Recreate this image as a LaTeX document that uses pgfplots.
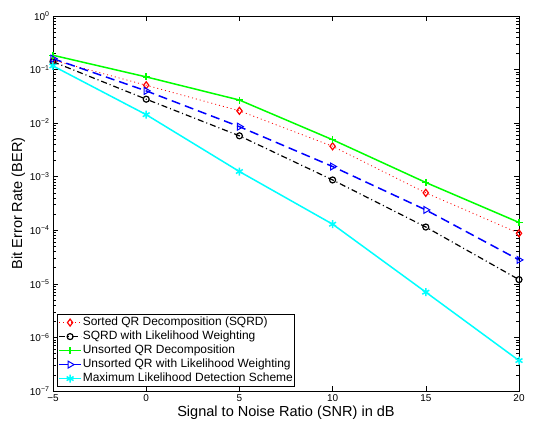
\documentclass[border=0pt]{standalone}
\usepackage{fontspec}
\setmainfont{Liberation Sans}
\usepackage{pgfplots}
\pgfplotsset{compat=1.18}
\definecolor{mlcyan}{RGB}{0,255,255}
\definecolor{mlgreen}{RGB}{0,255,0}
\definecolor{mlblue}{RGB}{0,0,255}
\definecolor{mlred}{RGB}{255,0,0}
\begin{document}
\begin{tikzpicture}
\begin{axis}[
 scale only axis, width=466bp, height=375bp,
 ymode=log, xmin=-5, xmax=20, ymin=1e-7, ymax=1,
 xtick={-5,0,5,10,15,20}, xticklabels={−5,0,5,10,15,20},
 ytick={1e-7,1e-6,1e-5,1e-4,1e-3,1e-2,1e-1,1},
 yticklabels={10\textsuperscript{−7},10\textsuperscript{−6},10\textsuperscript{−5},10\textsuperscript{−4},10\textsuperscript{−3},10\textsuperscript{−2},10\textsuperscript{−1},10\textsuperscript{0}},
 minor ytick={2e-7,3e-7,4e-7,5e-7,6e-7,7e-7,8e-7,9e-7,
  2e-6,3e-6,4e-6,5e-6,6e-6,7e-6,8e-6,9e-6,
  2e-5,3e-5,4e-5,5e-5,6e-5,7e-5,8e-5,9e-5,
  2e-4,3e-4,4e-4,5e-4,6e-4,7e-4,8e-4,9e-4,
  2e-3,3e-3,4e-3,5e-3,6e-3,7e-3,8e-3,9e-3,
  2e-2,3e-2,4e-2,5e-2,6e-2,7e-2,8e-2,9e-2,
  2e-1,3e-1,4e-1,5e-1,6e-1,7e-1,8e-1,9e-1},
 tick align=inside, major tick length=5bp, minor tick length=3bp,
 tick label style={font=\fontsize{10}{12}\selectfont},
 label style={font=\fontsize{14.6}{17}\selectfont},
 xlabel={Signal to Noise Ratio (SNR) in dB}, ylabel={Bit Error Rate (BER)},
 ylabel style={yshift=-2bp},
 xlabel style={yshift=2bp},
 axis line style={line width=0.8bp},
 every tick/.style={black, line width=0.6bp},
 legend style={at={(0.0085,0.0107)}, anchor=south west,
   font=\fontsize{12}{14}\selectfont, draw=black, line width=0.8bp,
   inner sep=1bp, row sep=0pt,
   nodes={inner sep=1bp, text height=9bp, text depth=3bp}},
 legend cell align=left,
 legend image code/.code={\draw[mark repeat=2,mark phase=2] plot coordinates {(0bp,0bp)(11bp,0bp)(22bp,0bp)};},
]
\addplot[mlred, line width=0.8bp, dash pattern=on 1bp off 3bp, mark=diamond, mark size=3.5bp, mark options={solid, line width=1.2bp}]
 coordinates {(-5,0.15) (0,0.051) (5,0.017) (10,0.0037) (15,5e-4) (20,8.8e-5)};
\addlegendentry{Sorted QR Decomposition (SQRD)}
\addplot[black, line width=1.2bp, dash pattern=on 6bp off 3bp on 1bp off 3bp, mark=o, mark size=3bp, mark options={solid}]
 coordinates {(-5,0.14) (0,0.028) (5,0.0058) (10,8.7e-4) (15,1.15e-4) (20,1.2e-5)};
\addlegendentry{SQRD with Likelihood Weighting}
\addplot[mlgreen, line width=1.5bp, mark=+, mark size=3.5bp, mark options={solid}]
 coordinates {(-5,0.185) (0,0.073) (5,0.027) (10,0.0049) (15,7.8e-4) (20,1.4e-4)};
\addlegendentry{Unsorted QR Decomposition}
\addplot[mlblue, line width=1.5bp, dash pattern=on 9bp off 5bp, mark=triangle, mark size=4bp, mark options={solid, rotate=-90, line width=1bp, fill=none}]
 coordinates {(-5,0.16) (0,0.04) (5,0.0086) (10,0.00155) (15,2.4e-4) (20,2.8e-5)};
\addlegendentry{Unsorted QR with Likelihood Weighting}
\addplot[mlcyan, line width=1.5bp, mark=asterisk, mark size=4bp, mark options={solid}]
 coordinates {(-5,0.117) (0,0.0144) (5,1.25e-3) (10,1.3e-4) (15,7e-6) (20,3.7e-7)};
\addlegendentry{Maximum Likelihood Detection Scheme}
\end{axis}
\pgfresetboundingbox
\path[use as bounding box] ([shift={(-53bp,-35bp)}]current axis.south west) rectangle ([shift={(15bp,16bp)}]current axis.north east);
\end{tikzpicture}
\end{document}
